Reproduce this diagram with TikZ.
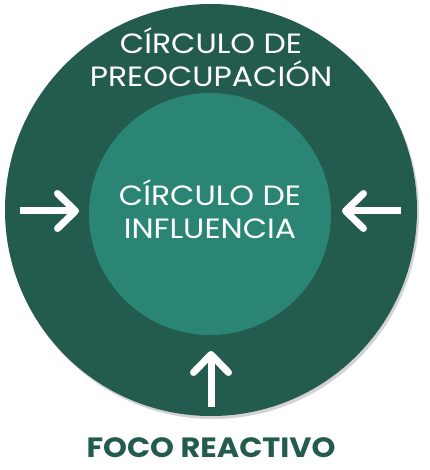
\documentclass[tikz,border=0pt]{standalone}
\usepackage{fontspec}
\setmainfont{Poppins}
\usetikzlibrary{arrows.meta, positioning, shadows}

\definecolor{darkgreen}{HTML}{235B4E}
\definecolor{midgreen}{HTML}{2A8574}

\tikzset{
  ring/.style={circle, fill=darkgreen, minimum size=412bp, inner sep=0pt,
    drop shadow={shadow xshift=2bp, shadow yshift=-3bp, opacity=0.35}},
  core/.style={circle, fill=midgreen, minimum size=242bp, inner sep=0pt},
  title/.style={text=white, align=center, xscale=1.13, transform shape,
    font=\fontsize{28}{33}\selectfont},
  push/.style={white, line width=7bp, -{Straight Barb[length=18bp, width=35bp, round]}},
  footer/.style={text=darkgreen, xscale=1.09, transform shape,
    font=\fontsize{28}{32}\selectfont\bfseries}
}

\begin{document}
\begin{tikzpicture}[x=1bp, y=-1bp]
    \useasboundingbox (0,0) rectangle (429,470);

    % circles
    \node[ring] (concern) at (211,210) {};
    \node[core] (influence) at (210,214) {};

    % labels
    \node[title] (concerntext) at (211,57) {CÍRCULO DE\\PREOCUPACIÓN};
    \node[title] (influencetext) at (210,209) {CÍRCULO DE\\INFLUENCIA};
    \node[footer] (focus) at (211,448) {FOCO REACTIVO};

    % arrows
    \coordinate (lefttail) at (20,211);
    \coordinate (lefthead) at (79,211);
    \coordinate (righttail) at (401,211);
    \coordinate (righthead) at (342,211);
    \coordinate (bottomtail) at (211,407);
    \coordinate (bottomhead) at (211,351);
    \draw[push] (lefttail) -- (lefthead);
    \draw[push] (righttail) -- (righthead);
    \draw[push] (bottomtail) -- (bottomhead);
\end{tikzpicture}
\end{document}
